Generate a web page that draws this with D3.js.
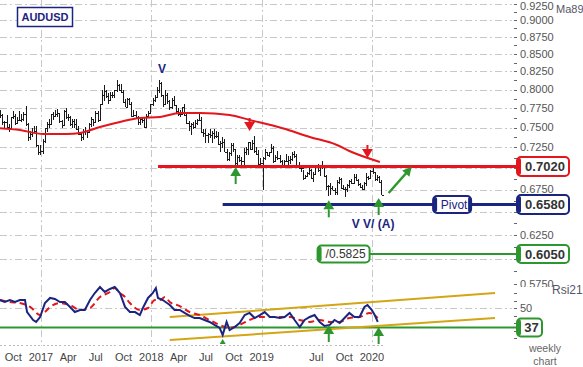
<!DOCTYPE html>
<html>
<head>
<meta charset="utf-8">
<script src="https://cdn.jsdelivr.net/npm/d3@7"></script>
<style>
  body { margin: 0; background: #fff; }
  svg { display: block; font-family: "Liberation Sans", Arial, sans-serif; }
</style>
</head>
<body>
<div id="chart"></div>
<script>
// weekly AUDUSD bars, first bar week ending 2016-08-19
const firstWeek = "2016-08-19";
const highs = [
  .7731,.7680,.7585,.7660,.7545,.7640,.7707,.7680,.7630,.7710,.7670,.7700,.7778,.7560,.7460,.7490,.7525,.7520,.7285,.7280,
  .7350,.7500,.7570,.7610, .7680,.7700,.7730,.7740, .7690,.7600,.7730,.7750,.7680, .7650,.7610,.7610,.7610,
  .7520,.7440,.7480,.7510, .7470,.7560,.7630,.7600,.7710, .7710,.7810,.7990,.8065, .8000,.7950,.7960,.7960,
  .8000,.8125,.8070,.8080,.7990, .7870,.7880,.7890,.7830, .7730,.7710,.7650,.7630, .7640,.7620,.7670,.7710,.7810,
  .7880,.7920,.8040,.8136, .8100,.7920,.7990,.7950, .7860,.7880,.7915,.7790,.7750, .7720,.7770,.7810,.7680,
  .7580,.7560,.7570,.7600, .7610,.7680,.7640,.7480,.7480, .7430,.7480,.7460,.7480, .7450,.7440,.7330,.7380,.7360,
  .7230,.7200,.7300,.7310, .7230,.7160,.7160,.7130, .7240,.7260,.7320,.7320,.7340, .7390,.7250,.7220,.7120,
  .7130,.7230,.7200,.7200, .7295,.7270,.7160,.7210, .7160,.7100,.7100,.7170,.7140, .7140,.7190,.7206,.7170,
  .7070,.7030,.6980,.6920,.6960, .7000,.6990,.6950,.7020, .7050,.7030,.7082,.7040, .6920,.6800,.6820,.6790,.6770,
  .6860,.6895,.6880,.6800, .6780,.6810,.6860,.6870, .6930,.6930,.6870,.6830,.6800, .6840,.6940,.6910,.6980,
  .7032,.6960,.6920,.6910,.6860
];
const lows = [
  .7620,.7535,.7485,.7500,.7445,.7480,.7605,.7530,.7540,.7580,.7570,.7580,.7520,.7330,.7340,.7380,.7430,.7260,.7160,.7160,
  .7170,.7300,.7440,.7500, .7540,.7600,.7630,.7640, .7560,.7490,.7530,.7610,.7580, .7520,.7500,.7490,.7470,
  .7400,.7330,.7340,.7410, .7370,.7430,.7510,.7520,.7560, .7570,.7580,.7810,.7850, .7880,.7810,.7840,.7880,
  .7880,.7960,.7980,.7950,.7820, .7770,.7760,.7790,.7630, .7630,.7620,.7530,.7530, .7560,.7500,.7510,.7620,.7680,
  .7780,.7830,.7890,.7950, .7900,.7760,.7800,.7810, .7720,.7740,.7780,.7690,.7650, .7640,.7660,.7650,.7550,
  .7460,.7410,.7480,.7500, .7530,.7580,.7430,.7380,.7310, .7310,.7370,.7310,.7360, .7370,.7280,.7200,.7240,.7190,
  .7090,.7085,.7140,.7190, .7040,.7040,.7070,.7020, .7030,.7160,.7160,.7220,.7220, .7180,.7160,.7040,.7020,
  .6740,.7100,.7140,.7130, .7180,.7060,.7070,.7100, .7060,.7000,.7030,.7070,.7030, .7050,.7090,.7120,.7020,
  .6990,.6960,.6865,.6870,.6900, .6920,.6870,.6832,.6920, .6960,.6910,.6990,.6900, .6750,.6677,.6690,.6740,.6690,
  .6690,.6810,.6760,.6740, .6670,.6720,.6770,.6810, .6810,.6850,.6790,.6770,.6750, .6750,.6790,.6860,.6870,
  .6930,.6850,.6850,.6830,.6683
];
const closes = [
  .7660,.7570,.7565,.7510,.7490,.7630,.7650,.7560,.7600,.7600,.7610,.7680,.7550,.7380,.7420,.7440,.7460,.7275,.7190,.7210,
  .7330,.7490,.7550,.7540, .7670,.7650,.7670,.7690, .7580,.7530,.7710,.7630,.7640, .7540,.7580,.7540,.7480,
  .7420,.7380,.7460,.7450, .7440,.7540,.7610,.7570,.7690, .7600,.7800,.7920,.7980, .7910,.7860,.7920,.7930,
  .7990,.8060,.8000,.7970,.7830, .7770,.7870,.7810,.7650, .7660,.7640,.7570,.7610, .7600,.7510,.7650,.7690,.7800,
  .7860,.7900,.8000,.8090, .7920,.7800,.7930,.7840, .7770,.7860,.7790,.7710,.7680, .7680,.7760,.7660,.7560,
  .7520,.7540,.7510,.7560, .7590,.7600,.7440,.7430,.7400, .7420,.7410,.7430,.7390, .7390,.7290,.7310,.7320,.7190,
  .7110,.7180,.7280,.7230, .7060,.7130,.7100,.7080, .7200,.7230,.7320,.7230,.7310, .7210,.7170,.7050,.7060,
  .7120,.7190,.7160,.7190, .7240,.7080,.7130,.7120, .7090,.7030,.7090,.7080,.7100, .7110,.7170,.7150,.7040,
  .7000,.7000,.6880,.6910,.6940, .6980,.6880,.6930,.7020, .6980,.7020,.7040,.6910, .6790,.6790,.6770,.6740,.6720,
  .6840,.6870,.6770,.6760, .6760,.6800,.6850,.6820, .6900,.6860,.6810,.6780,.6760, .6830,.6890,.6880,.6970,
  .6950,.6870,.6890,.6840,.6690
];

// 89-week moving average
const maDates = ["2016-08-18","2016-10-23","2017-01-08","2017-03-27","2017-05-10","2017-07-15","2017-09-19",
  "2017-11-24","2018-01-30","2018-04-05","2018-06-10","2018-09-17","2018-11-22","2019-03-11","2019-06-09",
  "2019-09-07","2019-10-18","2020-01-27"];
const maValues = [0.749,0.7468,0.7418,0.7418,0.7431,0.7507,0.7571,0.7623,0.7635,0.7687,0.7687,0.7661,
  0.7597,0.749,0.7381,0.7281,0.7207,0.7074];

// RSI 21 and its dashed average
const rsiDates = ["2016-08-18","2016-09-03","2016-09-20","2016-10-07","2016-10-23","2016-11-09","2016-11-16",
  "2016-12-06","2016-12-16","2016-12-29","2017-01-14","2017-01-31","2017-02-16","2017-03-05","2017-03-21",
  "2017-04-07","2017-04-23","2017-05-10","2017-05-26","2017-06-12","2017-06-28","2017-07-15","2017-07-31",
  "2017-08-17","2017-09-02","2017-09-19","2017-10-06","2017-10-22","2017-11-08","2017-11-24","2017-12-04",
  "2017-12-21","2018-01-06","2018-01-16","2018-01-23","2018-02-08","2018-03-03","2018-03-19","2018-04-05",
  "2018-04-21","2018-05-08","2018-05-24","2018-06-10","2018-06-26","2018-07-13","2018-07-29","2018-08-15",
  "2018-08-25","2018-09-07","2018-09-17","2018-10-04","2018-10-20","2018-11-06","2018-11-22","2018-12-09",
  "2018-12-26","2019-01-11","2019-01-28","2019-02-13","2019-03-02","2019-03-18","2019-04-04","2019-04-20",
  "2019-05-07","2019-05-23","2019-06-09","2019-06-25","2019-07-12","2019-07-28","2019-08-14","2019-08-30",
  "2019-09-16","2019-10-02","2019-10-18","2019-11-04","2019-11-21","2019-12-07","2019-12-17","2019-12-31",
  "2020-01-10","2020-01-20"];
const rsiValues = [55.3,54.0,55.3,54.0,55.3,55.3,47.3,42.0,40.7,44.0,53.3,56.7,56.0,54.0,54.0,50.7,47.3,48.7,
  48.7,55.3,60.0,64.0,60.7,62.7,64.0,60.0,50.7,47.3,47.3,45.3,50.0,56.7,60.0,63.3,56.7,55.3,52.0,48.7,48.7,
  46.7,44.7,43.3,43.3,42.0,40.7,38.7,36.7,32.0,40.7,35.3,37.3,40.0,45.3,46.7,43.3,45.3,47.3,44.0,44.0,43.3,
  44.0,46.7,42.0,37.3,42.0,44.0,45.3,40.7,38.0,38.7,42.0,40.0,43.3,46.7,44.0,44.0,50.7,52.0,48.7,45.3,40.7];
const sigDates = ["2016-08-18","2016-09-20","2016-10-23","2016-11-26","2016-12-29","2017-01-14","2017-01-31",
  "2017-03-05","2017-04-07","2017-05-10","2017-06-12","2017-07-15","2017-08-17","2017-09-02","2017-09-19",
  "2017-10-06","2017-10-22","2017-11-24","2017-12-21","2018-01-13","2018-01-30","2018-02-15","2018-03-03",
  "2018-04-05","2018-05-08","2018-06-10","2018-07-13","2018-08-15","2018-09-17","2018-10-20","2018-11-22",
  "2018-12-26","2019-01-28","2019-03-02","2019-04-04","2019-05-07","2019-06-09","2019-07-12","2019-08-14",
  "2019-09-16","2019-10-18","2019-11-21","2019-12-24","2020-01-20"];
const sigValues = [55.3,54.0,53.3,50.7,45.3,47.3,50.7,53.3,52.0,48.7,50.0,57.3,60.7,63.3,60.0,57.3,53.3,48.7,
  50.0,55.3,55.3,57.3,54.0,51.3,47.3,45.3,42.0,38.7,36.7,38.7,42.0,44.0,44.0,44.0,44.0,42.0,40.7,42.0,40.7,
  40.7,43.3,44.0,46.7,43.3];

// axes
const priceTicks = [0.575,0.600,0.625,0.650,0.675,0.700,0.725,0.750,0.775,0.800,0.825,0.850,0.875,0.900,0.925];
// labels that the level boxes cover are left out
const priceLabels = [0.575,0.625,0.675,0.725,0.750,0.775,0.800,0.825,0.850,0.875,0.900,0.925];
const rsiTicks = [30,35,40,45,50,55,60];
const rsiLabels = [50];
const yearLines = ["2017-01-01","2018-01-01","2019-01-01","2020-01-01"];
const xTickDates = ["2016-10-01","2017-01-01","2017-04-01","2017-07-01","2017-10-01","2018-01-01","2018-04-01",
  "2018-07-01","2018-10-01","2019-01-01","2019-07-01","2019-10-01","2020-01-01"];
const xTickLabels = ["Oct","2017","Apr","Jul","Oct","2018","Apr","Jul","Oct","2019","Jul","Oct","2020"];

// levels and annotations
const resistance = 0.7020, pivot = 0.6580, target = 0.6050, rsiLevel = 37;
const resistanceFrom = "2018-01-23", pivotFrom = "2018-08-25";
const targetBoxDate = "2019-09-29", targetBoxText = "/0.5825";
const pivotBoxDate = "2020-09-22";
const upArrowDates = ["2018-10-07","2019-08-11","2020-01-23"];
const upArrowPrices = [0.7013,0.6628,0.6653];
const downArrowDates = ["2018-11-22","2019-12-17"];
const downArrowPrices = [0.7456,0.7122];
const rsiArrowDates = ["2018-08-25","2019-08-11","2020-01-23"];
const rsiArrowValues = [29.3,38.7,37.3];
const trendDates = ["2018-03-03","2021-02-11"];
const trendUpper = [44.0,60.0];
const trendLower = [28.7,43.3];
const moveDates = ["2020-02-25","2020-05-11"];
const movePrices = [0.6711,0.7013];

const width = 583, height = 367;
const axisX = 517;
const parse = d3.utcParse("%Y-%m-%d");
const start = parse(firstWeek);
const weeks = closes.map((c, i) => d3.utcDay.offset(start, 7 * i));

const x = d3.scaleUtc().domain([parse("2017-01-01"), parse("2020-01-01")]).range([41, 372]);
const y = d3.scaleLog().domain([0.575, 0.925]).range([284, 4]);
const yr = d3.scaleLinear().domain([30, 60]).range([338, 293]);

const navy = "#1b2580", red = "#e3161d", green = "#2e962e", gold = "#d4a514", grid = "#c8c8c8";

const svg = d3.select("#chart").append("svg")
  .attr("width", width).attr("height", height);

// grid
const g = svg.append("g");
g.selectAll(".hgrid").data(priceTicks.filter(p => p >= 0.6)).join("line")
  .attr("x1", 0).attr("x2", 512)
  .attr("y1", d => Math.round(y(d)) + 0.5).attr("y2", d => Math.round(y(d)) + 0.5)
  .attr("stroke", grid).attr("stroke-dasharray", "7,3,2,3");
g.append("line").attr("x1", 0).attr("x2", 512)
  .attr("y1", Math.round(yr(50)) + 0.5).attr("y2", Math.round(yr(50)) + 0.5)
  .attr("stroke", grid).attr("stroke-dasharray", "7,3,2,3");
g.selectAll(".vgrid").data(yearLines).join("line")
  .attr("x1", d => Math.round(x(parse(d))) + 0.5).attr("x2", d => Math.round(x(parse(d))) + 0.5)
  .attr("y1", 0).attr("y2", 346)
  .attr("stroke", grid).attr("stroke-dasharray", "7,3,2,3");

// price bars
const bars = svg.append("g").attr("stroke", "#1a1a1a").attr("stroke-width", 1).attr("shape-rendering", "crispEdges");
weeks.forEach((d, i) => {
  const xi = Math.round(x(d)) + 0.5;
  bars.append("line").attr("x1", xi).attr("x2", xi).attr("y1", y(highs[i])).attr("y2", y(lows[i]));
  bars.append("line").attr("x1", xi).attr("x2", xi + 2)
    .attr("y1", Math.round(y(closes[i])) + 0.5).attr("y2", Math.round(y(closes[i])) + 0.5);
});

// moving average
svg.append("path")
  .datum(maDates.map((d, i) => [parse(d), maValues[i]]))
  .attr("fill", "none").attr("stroke", red).attr("stroke-width", 2)
  .attr("d", d3.line().curve(d3.curveMonotoneX).x(d => x(d[0])).y(d => y(d[1])));

// horizontal levels
svg.append("line").attr("x1", x(parse(resistanceFrom))).attr("x2", axisX)
  .attr("y1", y(resistance)).attr("y2", y(resistance)).attr("stroke", red).attr("stroke-width", 3);
svg.append("line").attr("x1", x(parse(pivotFrom))).attr("x2", axisX)
  .attr("y1", y(pivot)).attr("y2", y(pivot)).attr("stroke", navy).attr("stroke-width", 3);
svg.append("line").attr("x1", x(parse(targetBoxDate))).attr("x2", axisX)
  .attr("y1", y(target)).attr("y2", y(target)).attr("stroke", green).attr("stroke-width", 2);

// RSI panel
svg.append("line").attr("x1", 0).attr("x2", axisX)
  .attr("y1", yr(rsiLevel)).attr("y2", yr(rsiLevel)).attr("stroke", green).attr("stroke-width", 2);
[trendUpper, trendLower].forEach(vals => {
  svg.append("line")
    .attr("x1", x(parse(trendDates[0]))).attr("y1", yr(vals[0]))
    .attr("x2", x(parse(trendDates[1]))).attr("y2", yr(vals[1]))
    .attr("stroke", gold).attr("stroke-width", 2);
});
svg.append("path")
  .datum(sigDates.map((d, i) => [parse(d), sigValues[i]]))
  .attr("fill", "none").attr("stroke", red).attr("stroke-width", 2).attr("stroke-dasharray", "6,4")
  .attr("d", d3.line().curve(d3.curveMonotoneX).x(d => x(d[0])).y(d => yr(d[1])));
svg.append("path")
  .datum(rsiDates.map((d, i) => [parse(d), rsiValues[i]]))
  .attr("fill", "none").attr("stroke", navy).attr("stroke-width", 2)
  .attr("d", d3.line().x(d => x(d[0])).y(d => yr(d[1])));

// arrows
function arrow(cx, tipY, dir, color, tri, stem) {
  const base = tipY + dir * tri;
  svg.append("path")
    .attr("d", `M${cx},${tipY}L${cx - tri * 0.6},${base}L${cx + tri * 0.6},${base}Z`)
    .attr("fill", color);
  if (stem) {
    svg.append("line").attr("x1", cx).attr("x2", cx)
      .attr("y1", base).attr("y2", base + dir * stem)
      .attr("stroke", color).attr("stroke-width", 2);
  }
}
upArrowDates.forEach((d, i) => arrow(x(parse(d)), y(upArrowPrices[i]), 1, green, 9, 8));
downArrowDates.forEach((d, i) => arrow(x(parse(d)), y(downArrowPrices[i]), -1, red, 9, 4));
rsiArrowDates.forEach((d, i) => arrow(x(parse(d)), yr(rsiArrowValues[i]), 1, green, i === 0 ? 5 : 9, i === 0 ? 0 : 8));

// diagonal move arrow
const mx1 = x(parse(moveDates[0])), my1 = y(movePrices[0]);
const mx2 = x(parse(moveDates[1])), my2 = y(movePrices[1]);
const ang = Math.atan2(my2 - my1, mx2 - mx1);
svg.append("line").attr("x1", mx1).attr("y1", my1)
  .attr("x2", mx2 - 6 * Math.cos(ang)).attr("y2", my2 - 6 * Math.sin(ang))
  .attr("stroke", green).attr("stroke-width", 2.5);
svg.append("path")
  .attr("d", `M${mx2},${my2}L${mx2 - 10 * Math.cos(ang - 0.5)},${my2 - 10 * Math.sin(ang - 0.5)}L${mx2 - 10 * Math.cos(ang + 0.5)},${my2 - 10 * Math.sin(ang + 0.5)}Z`)
  .attr("fill", green);

// wave labels
svg.append("text").attr("x", x(weeks[d3.maxIndex(highs)]) + 3).attr("y", y(d3.max(highs)) - 7)
  .attr("text-anchor", "middle").attr("font-size", 12).attr("font-weight", "bold").attr("fill", navy).text("V");
svg.append("text").attr("x", x(weeks[weeks.length - 1]) - 8).attr("y", y(pivot) + 23)
  .attr("text-anchor", "middle").attr("font-size", 12).attr("font-weight", "bold").attr("fill", navy).text("V V/ (A)");

// price axis
const axisG = svg.append("g");
axisG.append("clipPath").attr("id", "pclip").append("rect").attr("x", 500).attr("y", 0).attr("width", 83).attr("height", 287);
const pa = axisG.append("g").attr("clip-path", "url(#pclip)");
d3.range(priceTicks.length * 2 - 1).forEach(k => {
  const p = priceTicks[0] + k * 0.0125;
  pa.append("line").attr("x1", 514).attr("x2", 517)
    .attr("y1", Math.round(y(p)) + 0.5).attr("y2", Math.round(y(p)) + 0.5).attr("stroke", "#666");
});
pa.selectAll("text").data(priceLabels).join("text")
  .attr("x", 520).attr("y", d => Math.max(y(d), 6)).attr("dy", "0.35em")
  .attr("font-size", 11).attr("fill", "#555").text(d => d.toFixed(4));

// rsi axis
rsiTicks.forEach(v => {
  svg.append("line").attr("x1", 514).attr("x2", 517)
    .attr("y1", Math.round(yr(v)) + 0.5).attr("y2", Math.round(yr(v)) + 0.5).attr("stroke", "#666");
});
svg.selectAll(".rl").data(rsiLabels).join("text")
  .attr("x", 520).attr("y", d => yr(d)).attr("dy", "0.35em")
  .attr("font-size", 11).attr("fill", "#555").text(d => d);

// x axis
weeks.filter((d, i) => i % 2 === 0).forEach(d => {
  svg.append("line").attr("x1", Math.round(x(d))).attr("x2", Math.round(x(d)) + 2)
    .attr("y1", 345.5).attr("y2", 345.5).attr("stroke", "#bbb");
});
svg.selectAll(".xl").data(xTickDates).join("text")
  .attr("x", d => x(parse(d))).attr("y", 361)
  .attr("text-anchor", "middle").attr("font-size", 11).attr("fill", "#444")
  .text((d, i) => xTickLabels[i]);

// boxes
function box(x0, yc, w, h, color, text, opts = {}) {
  const bg = svg.append("g");
  bg.append("rect").attr("x", x0).attr("y", yc - h / 2).attr("width", w).attr("height", h)
    .attr("rx", 4).attr("fill", "#fff").attr("stroke", color).attr("stroke-width", 2);
  bg.append("rect").attr("x", x0).attr("y", yc - h / 2 + 1).attr("width", 4).attr("height", h - 2)
    .attr("rx", 2).attr("fill", color);
  if (opts.rightTab) {
    bg.append("rect").attr("x", x0 + w - 3).attr("y", yc - h / 2 + 1).attr("width", 3).attr("height", h - 2)
      .attr("rx", 1.5).attr("fill", color);
  }
  bg.append("text").attr("x", x0 + w / 2 + 2).attr("y", yc).attr("dy", "0.36em")
    .attr("text-anchor", "middle").attr("font-size", opts.size || 13)
    .attr("font-weight", opts.bold === false ? "normal" : "bold")
    .attr("fill", opts.textColor || "#333").text(text);
}
box(axisX, y(resistance), 52, 19, red, resistance.toFixed(4));
box(axisX, y(pivot), 52, 19, navy, pivot.toFixed(4));
box(axisX, y(target), 52, 18, green, target.toFixed(4));
box(axisX, yr(rsiLevel), 25, 18, green, String(rsiLevel));
box(x(parse(targetBoxDate)) - 26, y(target), 52, 17, green, targetBoxText, { bold: false, size: 12 });
box(x(parse(pivotBoxDate)) - 19, y(pivot), 38, 17, navy, "Pivot", { bold: false, size: 12, textColor: navy, rightTab: true });

// titles
svg.append("rect").attr("x", 17.5).attr("y", 7.5).attr("width", 55).attr("height", 19)
  .attr("fill", "#fff").attr("stroke", navy).attr("stroke-width", 1.5);
svg.append("text").attr("x", 45).attr("y", 17).attr("dy", "0.36em").attr("text-anchor", "middle")
  .attr("font-size", 11).attr("font-weight", "bold").attr("fill", navy).text("AUDUSD");
svg.append("rect").attr("x", 555).attr("y", 0).attr("width", 28).attr("height", 15).attr("fill", "#fff");
svg.append("text").attr("x", 556).attr("y", 9).attr("dy", "0.35em")
  .attr("font-size", 11).attr("fill", "#556").text("Ma89");
svg.append("text").attr("x", 552).attr("y", 290).attr("dy", "0.35em")
  .attr("font-size", 12).attr("fill", "#556").text("Rsi21");
svg.append("text").attr("x", 545).attr("y", 352).attr("text-anchor", "middle")
  .attr("font-size", 10.5).attr("fill", "#666").text("weekly");
svg.append("text").attr("x", 545).attr("y", 365).attr("text-anchor", "middle")
  .attr("font-size", 10.5).attr("fill", "#666").text("chart");
</script>
</body>
</html>
